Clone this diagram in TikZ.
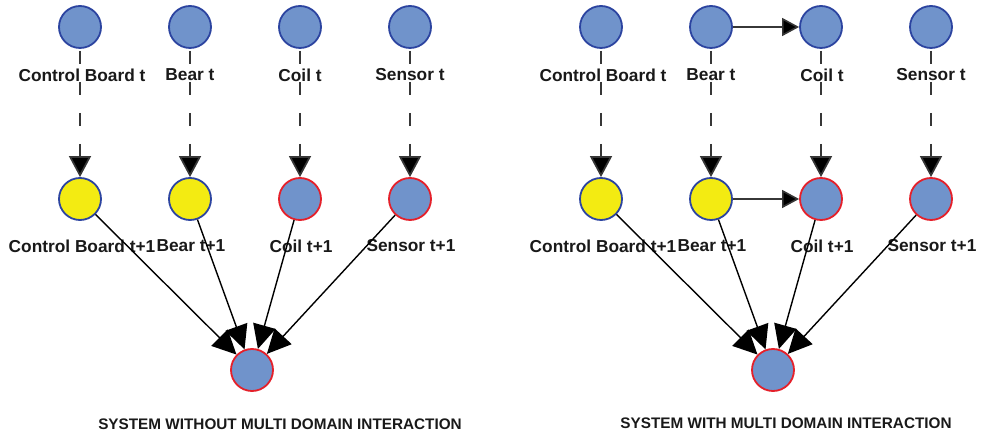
\documentclass[tikz,border=0pt]{standalone}
\usepackage{fontspec}
\setmainfont{Liberation Sans}
\usetikzlibrary{arrows.meta}
\definecolor{nodeblue}{RGB}{112,147,203}
\definecolor{borderblue}{RGB}{44,68,160}
\definecolor{borderred}{RGB}{228,32,42}
\definecolor{nodeyellow}{RGB}{243,235,18}
\definecolor{dashgray}{RGB}{55,55,55}
\tikzset{
  bn/.style={circle,minimum size=42pt,inner sep=0pt,line width=1.8pt},
  bluenode/.style={bn,fill=nodeblue,draw=borderblue},
  yellownode/.style={bn,fill=nodeyellow,draw=borderblue},
  rednode/.style={bn,fill=nodeblue,draw=borderred},
  lbl/.style={font=\bfseries\fontsize{17.3}{19}\selectfont,inner sep=0pt,text=black!90},
  ttl/.style={font=\bfseries\fontsize{15.3}{17}\selectfont,inner sep=0pt,text=black!90},
  tarrow/.style={draw=dashgray,line width=1.7pt,dash pattern=on 13pt off 18pt,dash phase=29pt,-{Triangle[width=22pt,length=21pt,fill=black]}},
  harrow/.style={draw=dashgray,line width=1.6pt,-{Triangle[width=18pt,length=17pt,fill=black]}},
  sarrow/.style={draw=black,line width=1.4pt,-{Triangle[width=23pt,length=24pt,fill=black]}}
}
\begin{document}
\begin{tikzpicture}[x=1pt,y=-1pt]
\useasboundingbox (0,0) rectangle (986,435);
% ---------- left panel ----------
\foreach \n/\x/\s/\t in {a/80/bluenode/yellownode, b/190/bluenode/yellownode, c/300/bluenode/rednode, d/410/bluenode/rednode}{
  \node[\s] (L\n t) at (\x,27) {};
  \node[\t] (L\n u) at (\x,199) {};
}
\node[lbl] (Lalt) at (82,75) {Control Board t};
\node[lbl] (Lblt) at (190,75) {Bear t};
\node[lbl] (Lclt) at (300,75) {Coil t};
\node[lbl] (Ldlt) at (410,75) {Sensor t};
\node[lbl] (Lalu) at (82,246) {Control Board t+1};
\node[lbl] (Lblu) at (191,246) {Bear t+1};
\node[lbl] (Lclu) at (301,246) {Coil t+1};
\node[lbl] (Ldlu) at (411,246) {Sensor t+1};
\node[rednode] (Lsys) at (252,370) {};
\foreach \n in {a,b,c,d}{
  \draw[tarrow] (L\n t) -- (L\n u);
  \draw[sarrow] (L\n u) -- (Lsys);
}
\node[ttl] (Ltitle) at (280,424) {SYSTEM WITHOUT MULTI DOMAIN INTERACTION};
% ---------- right panel ----------
\foreach \n/\x/\s/\t in {a/601/bluenode/yellownode, b/711/bluenode/yellownode, c/821/bluenode/rednode, d/931/bluenode/rednode}{
  \node[\s] (R\n t) at (\x,27) {};
  \node[\t] (R\n u) at (\x,199) {};
}
\node[lbl] (Ralt) at (603,75) {Control Board t};
\node[lbl] (Rblt) at (711,75) {Bear t};
\node[lbl] (Rclt) at (822,75) {Coil t};
\node[lbl] (Rdlt) at (931,75) {Sensor t};
\node[lbl] (Ralu) at (603,246) {Control Board t+1};
\node[lbl] (Rblu) at (712,246) {Bear t+1};
\node[lbl] (Rclu) at (822,246) {Coil t+1};
\node[lbl] (Rdlu) at (932,246) {Sensor t+1};
\node[rednode] (Rsys) at (773,370) {};
\foreach \n in {a,b,c,d}{
  \draw[tarrow] (R\n t) -- (R\n u);
  \draw[sarrow] (R\n u) -- (Rsys);
}
\draw[harrow] (Rbt) -- (Rct);
\draw[harrow] (Rbu) -- (Rcu);
\node[ttl] (Rtitle) at (786,423) {SYSTEM WITH MULTI DOMAIN INTERACTION};
\end{tikzpicture}
\end{document}
